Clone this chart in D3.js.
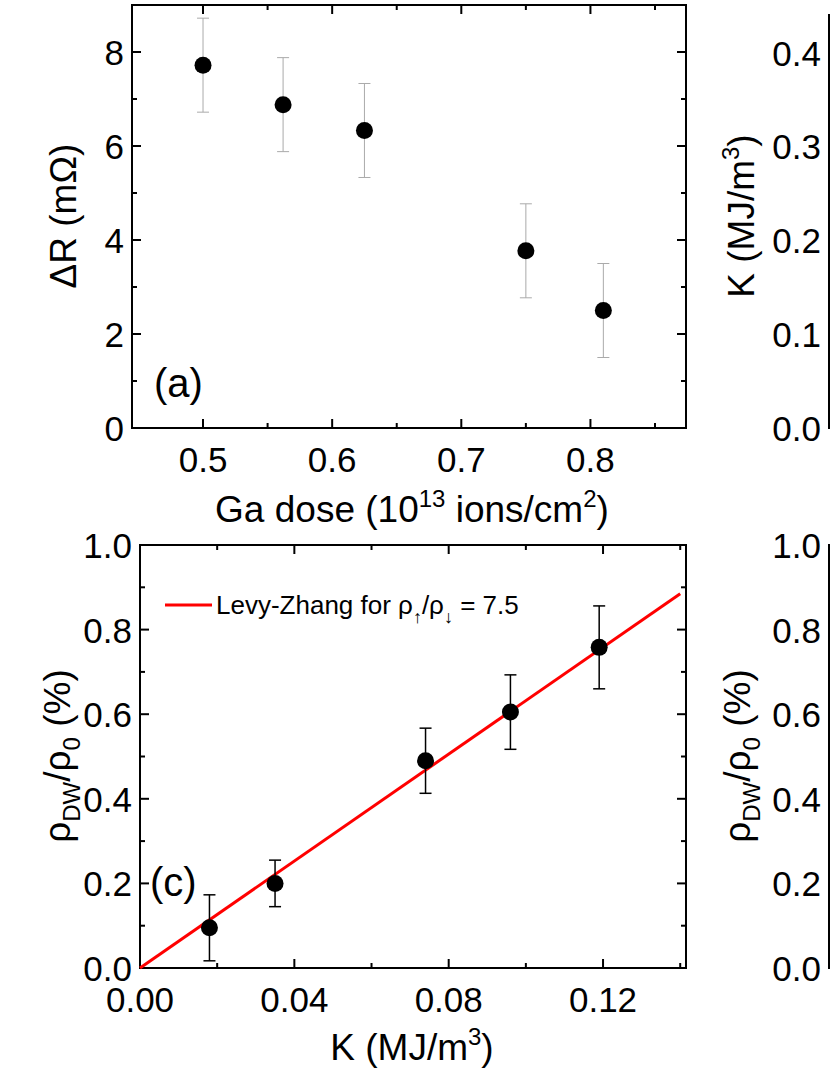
<!DOCTYPE html>
<html><head><meta charset="utf-8">
<script src="https://cdn.jsdelivr.net/npm/d3@7"></script>
<style>body{margin:0;background:#fff}text{font-family:"Liberation Sans",Arial,sans-serif}</style>
</head><body><svg width="830" height="1075"></svg>
<script>
// panel (a)
var doseX = [0.5, 0.562, 0.625, 0.75, 0.81];
var deltaR = [7.72, 6.88, 6.33, 3.77, 2.5];
var deltaRErr = [1.0, 1.0, 1.0, 1.0, 1.0];
// panel (c)
var kX = [0.018, 0.035, 0.074, 0.096, 0.119];
var rhoDW = [0.095, 0.20, 0.49, 0.605, 0.758];
var rhoErr = [0.078, 0.055, 0.077, 0.088, 0.098];
var fitK = [0, 0.14];
var fitRho = [0, 0.885];

var svg = d3.select('svg');

function frame(g, x, y, xt, xm, yt, ym, showX){
	var r = x.range(), b = y.range();
	g.append('rect').attr('x', r[0]).attr('y', b[1]).attr('width', r[1]-r[0]).attr('height', b[0]-b[1])
		.attr('fill', 'none').attr('stroke', 'black').attr('stroke-width', 2);
	function tick(v, len, horiz){
		if (horiz) {
			g.append('line').attr('x1', x(v)).attr('x2', x(v)).attr('y1', b[0]).attr('y2', b[0]-len).attr('stroke','black').attr('stroke-width',2);
			g.append('line').attr('x1', x(v)).attr('x2', x(v)).attr('y1', b[1]).attr('y2', b[1]+len).attr('stroke','black').attr('stroke-width',2);
		} else {
			g.append('line').attr('y1', y(v)).attr('y2', y(v)).attr('x1', r[0]).attr('x2', r[0]+len).attr('stroke','black').attr('stroke-width',2);
			g.append('line').attr('y1', y(v)).attr('y2', y(v)).attr('x1', r[1]).attr('x2', r[1]-len).attr('stroke','black').attr('stroke-width',2);
		}
	}
	if (showX) {
		xm.forEach(function(v){ tick(v, 5, true); });
		xt.forEach(function(v){ tick(v, 9, true);
			g.append('text').attr('x', x(v)).attr('y', b[0]+44).attr('text-anchor','middle').attr('font-size', 35).text(xt.fmt(v));
		});
	}
	ym.forEach(function(v){ tick(v, 5, false); });
	yt.forEach(function(v){ tick(v, 9, false);
		g.append('text').attr('x', r[0]-8).attr('y', y(v)+13).attr('text-anchor','end').attr('font-size', 35).text(yt.fmt(v));
	});
}

// ---- (a)
var xa = d3.scaleLinear().domain([0.445, 0.874]).range([132, 686]);
var ya = d3.scaleLinear().domain([0, 9]).range([428, 5]);
var ga = svg.append('g');
var xat = [0.5, 0.6, 0.7, 0.8]; xat.fmt = d3.format('.1f');
var yat = [0, 2, 4, 6, 8]; yat.fmt = d3.format('d');
frame(ga, xa, ya, xat, [0.55, 0.65, 0.75, 0.85], yat, [1, 3, 5, 7], true);
doseX.forEach(function(d, i){
	var cx = xa(d);
	ga.append('line').attr('x1', cx).attr('x2', cx).attr('y1', ya(deltaR[i]-deltaRErr[i])).attr('y2', ya(deltaR[i]+deltaRErr[i])).attr('stroke', '#aaa');
	[-1, 1].forEach(function(s){
		ga.append('line').attr('x1', cx-6).attr('x2', cx+6).attr('y1', ya(deltaR[i]+s*deltaRErr[i])).attr('y2', ya(deltaR[i]+s*deltaRErr[i])).attr('stroke', '#aaa');
	});
	ga.append('circle').attr('cx', cx).attr('cy', ya(deltaR[i])).attr('r', 8.5);
});
ga.append('text').attr('x', 154).attr('y', 397).attr('font-size', 40).text('(a)');
ga.append('text').attr('x', 412).attr('y', 522).attr('text-anchor','middle').attr('font-size', 37)
	.html('Ga dose (10<tspan dy="-15" font-size="24">13</tspan><tspan dy="15"> ions/cm</tspan><tspan dy="-15" font-size="24">2</tspan><tspan dy="15">)</tspan>');
ga.append('text').attr('transform', 'translate(76,216) rotate(-90)').attr('text-anchor','middle').attr('font-size', 37).text('ΔR (mΩ)');

// ---- (c)
var xc = d3.scaleLinear().domain([0, 0.1415]).range([140, 686]);
var yc = d3.scaleLinear().domain([0, 1]).range([968, 545]);
var gc = svg.append('g');
var xct = [0, 0.04, 0.08, 0.12]; xct.fmt = d3.format('.2f');
var yct = [0, 0.2, 0.4, 0.6, 0.8, 1.0]; yct.fmt = d3.format('.1f');
frame(gc, xc, yc, xct, [0.02, 0.06, 0.10, 0.14], yct, [0.1, 0.3, 0.5, 0.7, 0.9], true);
gc.append('line').attr('x1', xc(fitK[0])).attr('y1', yc(fitRho[0])).attr('x2', xc(fitK[1])).attr('y2', yc(fitRho[1]))
	.attr('stroke', 'red').attr('stroke-width', 3);
kX.forEach(function(d, i){
	var cx = xc(d);
	gc.append('line').attr('x1', cx).attr('x2', cx).attr('y1', yc(rhoDW[i]-rhoErr[i])).attr('y2', yc(rhoDW[i]+rhoErr[i])).attr('stroke', 'black').attr('stroke-width', 1.5);
	[-1, 1].forEach(function(s){
		gc.append('line').attr('x1', cx-6).attr('x2', cx+6).attr('y1', yc(rhoDW[i]+s*rhoErr[i])).attr('y2', yc(rhoDW[i]+s*rhoErr[i])).attr('stroke', 'black').attr('stroke-width', 1.5);
	});
	gc.append('circle').attr('cx', cx).attr('cy', yc(rhoDW[i])).attr('r', 8.5);
});
gc.append('line').attr('x1', 165).attr('x2', 212).attr('y1', 605).attr('y2', 605).attr('stroke', 'red').attr('stroke-width', 3);
gc.append('text').attr('x', 216).attr('y', 614).attr('font-size', 26)
	.html('Levy-Zhang for ρ<tspan dy="9" font-size="18">↑</tspan><tspan dy="-9">/ρ</tspan><tspan dy="9" font-size="18">↓</tspan><tspan dy="-9"> = 7.5</tspan>');
gc.append('text').attr('x', 150).attr('y', 896).attr('font-size', 40).text('(c)');
gc.append('text').attr('x', 412).attr('y', 1060).attr('text-anchor','middle').attr('font-size', 37)
	.html('K (MJ/m<tspan dy="-15" font-size="24">3</tspan><tspan dy="15">)</tspan>');
gc.append('text').attr('transform', 'translate(70,756) rotate(-90)').attr('text-anchor','middle').attr('font-size', 37)
	.html('ρ<tspan dy="10" font-size="24">DW</tspan><tspan dy="-10">/ρ</tspan><tspan dy="10" font-size="24">0</tspan><tspan dy="-10"> (%)</tspan>');

// ---- (b) and (d), cut off at the right edge
var xb = d3.scaleLinear().domain([0, 1]).range([829, 1380]);
var yb = d3.scaleLinear().domain([0, 0.44]).range([428, 15]);
var gb = svg.append('g');
var ybt = [0, 0.1, 0.2, 0.3, 0.4]; ybt.fmt = d3.format('.1f');
frame(gb, xb, yb, [], [], ybt, [0.05, 0.15, 0.25, 0.35], false);
gb.append('text').attr('transform', 'translate(754,216) rotate(-90)').attr('text-anchor','middle').attr('font-size', 37)
	.html('K (MJ/m<tspan dy="-15" font-size="24">3</tspan><tspan dy="15">)</tspan>');

var yd = d3.scaleLinear().domain([0, 1]).range([968, 545]);
var gd = svg.append('g');
var ydt = [0, 0.2, 0.4, 0.6, 0.8, 1.0]; ydt.fmt = d3.format('.1f');
frame(gd, xb, yd, [], [], ydt, [0.1, 0.3, 0.5, 0.7, 0.9], false);
gd.append('text').attr('transform', 'translate(750,756) rotate(-90)').attr('text-anchor','middle').attr('font-size', 37)
	.html('ρ<tspan dy="10" font-size="24">DW</tspan><tspan dy="-10">/ρ</tspan><tspan dy="10" font-size="24">0</tspan><tspan dy="-10"> (%)</tspan>');
</script></body></html>
